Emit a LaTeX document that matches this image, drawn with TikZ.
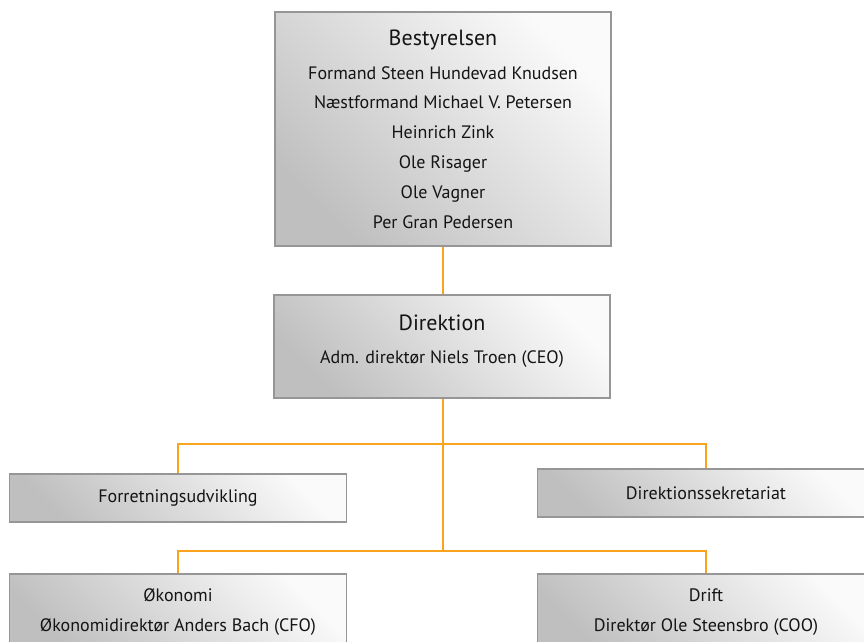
\documentclass[tikz,border=0pt]{standalone}
\usepackage{fontspec}
\setmainfont{PT Sans}
\usepackage{xcolor}
\usetikzlibrary{calc}
\definecolor{linkorange}{RGB}{249,163,30}
\definecolor{boxline}{RGB}{150,150,150}
\definecolor{textgray}{RGB}{20,20,20}
\newcommand{\headline}[1]{{\fontsize{22}{29.8}\selectfont #1}}

\begin{document}
\begin{tikzpicture}[x=1pt, y=-1pt,
  every node/.style={font=\fontsize{18}{29.8}\selectfont, text=textgray},
  unit/.style={draw=boxline, line width=1.3pt, top color=white!98!black,
    bottom color=black!25, shading angle=-45, align=center, inner sep=0pt},
  link/.style={draw=linkorange, line width=1.4pt}]
\useasboundingbox (0,0) rectangle (864,641);
\clip (0,0) rectangle (864,641);

% ---- board and management ----
\node[unit, minimum width=336pt, minimum height=234pt] (board) at (443,129)
  {\headline{Bestyrelsen}\\[4pt]
   Formand Steen Hundevad Knudsen\\
   Næstformand Michael V. Petersen\\
   Heinrich Zink\\
   Ole Risager\\
   Ole Vagner\\
   Per Gran Pedersen};
\node[unit, minimum width=336pt, minimum height=103pt] (mgmt) at (442,346.5)
  {\headline{Direktion}\\[3pt]
   Adm. direktør Niels Troen (CEO)\\[-15pt]};

% ---- staff functions ----
\node[unit, minimum width=337pt, minimum height=48pt] (bizdev) at (178,498)
  {Forretningsudvikling};
\node[unit, minimum width=337pt, minimum height=48pt] (secr) at (706,493)
  {Direktionssekretariat};

% ---- line functions ----
\node[unit, minimum width=337pt, minimum height=76pt] (fin) at (178,612)
  {Økonomi\\ Økonomidirektør Anders Bach (CFO)};
\node[unit, minimum width=337pt, minimum height=76pt] (ops) at (706,612)
  {Drift\\ Direktør Ole Steensbro (COO)};

% ---- connectors ----
\coordinate (staff) at (443,444);
\coordinate (line) at (443,551);
\draw[link] (board.south) -- (board.south |- mgmt.north);
\draw[link] (line |- mgmt.south) -- (line);
\draw[link] (bizdev.north) |- (staff) -| (secr.north);
\draw[link] (fin.north) |- (line) -| (ops.north);

\end{tikzpicture}
\end{document}
